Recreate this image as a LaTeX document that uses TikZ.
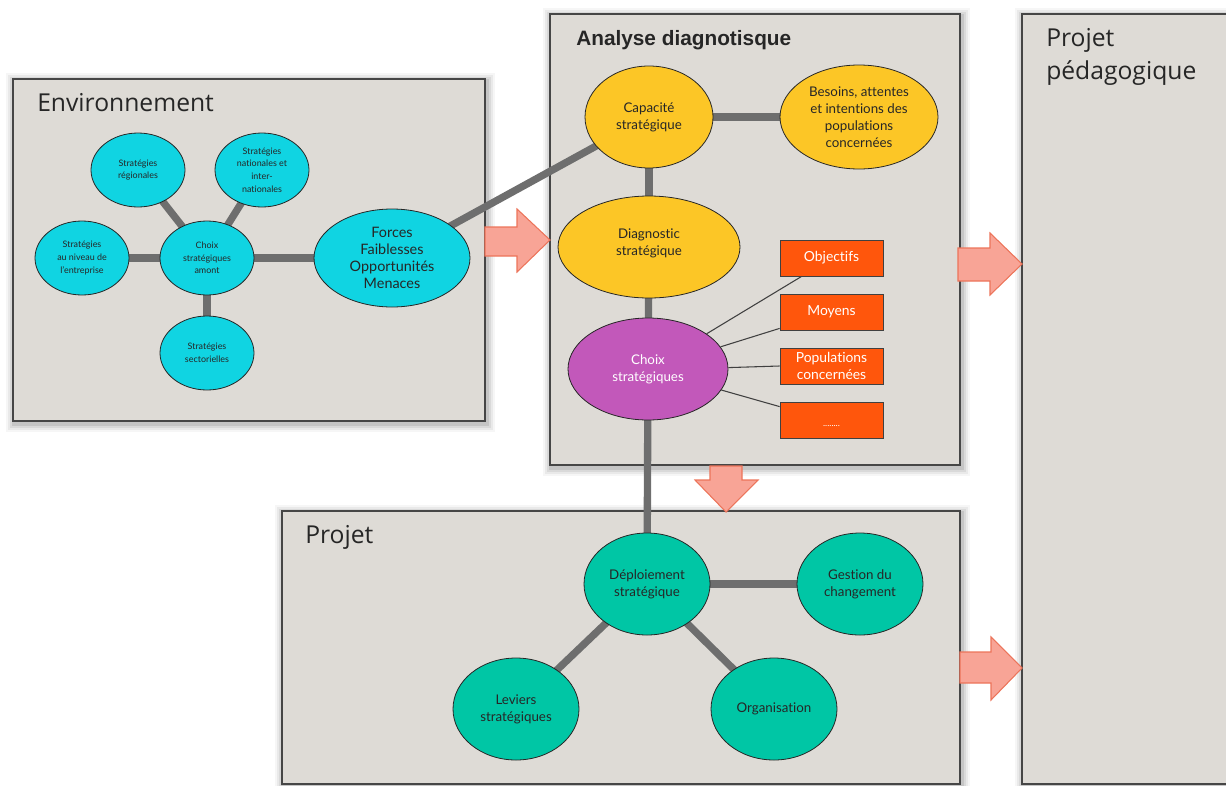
\documentclass[tikz,border=0pt]{standalone}
\usepackage{fontspec}
\setmainfont{Lato}[Ligatures={TeX,NoCommon}]
\newfontfamily\headfont{Open Sans}
\newfontfamily\boldheadfont{Liberation Sans}
\usetikzlibrary{shapes.geometric}

\definecolor{panelfill}{RGB}{222,219,214}
\definecolor{panelline}{RGB}{70,70,70}
\definecolor{envcyan}{RGB}{16,212,226}
\definecolor{anayellow}{RGB}{252,198,38}
\definecolor{choixpurple}{RGB}{194,88,186}
\definecolor{boxorange}{RGB}{255,86,12}
\definecolor{projgreen}{RGB}{0,198,165}
\definecolor{linkgray}{RGB}{110,110,110}
\definecolor{arrowfill}{RGB}{248,164,150}
\definecolor{arrowline}{RGB}{236,116,90}
\definecolor{darktext}{RGB}{38,38,38}

\pgfdeclarelayer{panels}
\pgfdeclarelayer{links}
\pgfsetlayers{panels,links,main}

% text sizes
\newcommand\tinytxt{\fontsize{6.7pt}{9.4pt}\selectfont}
\newcommand\midtxt{\fontsize{10pt}{12.6pt}\selectfont}
\newcommand\tagtxt{\fontsize{10.4pt}{12.6pt}\selectfont}
\newcommand\bigtxt{\fontsize{10.8pt}{12.8pt}\selectfont}
\newcommand\headtxt{\headfont\fontsize{18.5pt}{24.75pt}\selectfont}

% soft shadow under a panel (coordinates in px)
\newcommand\panelshade[4]{%
  \foreach \sh/\op in {8/0.035,6/0.05,4/0.07,2/0.09}{%
    \fill[black,opacity=\op] ({#1-\sh+1},{#2-\sh+2}) rectangle ({#3+\sh+2},{#4+\sh+3});}}

\tikzset{
  panel/.style={draw=panelline, line width=0.9pt, fill=panelfill},
  radii/.style 2 args={minimum width=#1*1.5pt, minimum height=#2*1.5pt},
  bubble/.style={ellipse, draw=black!85, line width=0.6pt, inner sep=0pt,
    align=center, text=darktext},
  envbubble/.style={bubble, fill=envcyan, font=\tinytxt, radii={47}{37}},
  anabubble/.style={bubble, fill=anayellow, font=\midtxt},
  projbubble/.style={bubble, fill=projgreen, font=\midtxt, radii={63}{51}},
  tagbox/.style={rectangle, draw=black!75, line width=0.6pt, fill=boxorange,
    text=white, font=\tagtxt, align=center, inner sep=0pt,
    minimum width=103*0.75pt, minimum height=36*0.75pt},
  link/.style={draw=linkgray, line width=5.5pt},
  thinlink/.style={draw=black!75, line width=0.8pt},
  bigarrow/.style={fill=arrowfill, draw=arrowline, line width=0.8pt, line join=miter},
  heading/.style={anchor=west, inner sep=0pt, text=darktext, align=left}
}

\begin{document}
\begin{tikzpicture}[x=0.75pt,y=-0.75pt]
\useasboundingbox (0,0) rectangle (1226,785);

% ---- panels
\begin{pgfonlayer}{panels}
  \panelshade{13}{79}{485}{421}
  \panelshade{550}{14}{960}{465}
  \panelshade{282}{511}{960}{784}
  \panelshade{1022}{14}{1240}{784}
  \path[panel] (13,79) rectangle (485,421);
  \path[panel] (550,14) rectangle (960,465);
  \path[panel] (282,511) rectangle (960,784);
  \path[panel] (1022,14) rectangle (1240,784);
\end{pgfonlayer}

% ---- headings
\node[heading, font=\headtxt] (tenv) at (37,103) {Environnement};
\node[heading, font=\boldheadfont\bfseries\fontsize{15.6pt}{18pt}\selectfont] (tana) at (576,40) {Analyse diagnotisque};
\node[heading, font=\headtxt] (tproj) at (305,537) {Projet};
\node[heading, font=\headtxt] (tped) at (1046,57) {Projet\\pédagogique};

% ---- environment
\node[envbubble] (reg) at (138,170) {Stratégies\\régionales};
\node[envbubble] (nat) at (262,170) {Stratégies\\nationales et\\inter-\\nationales};
\node[envbubble] (ent) at (82,258) {Stratégies\\au niveau de\\l'entreprise};
\node[envbubble] (amont) at (207,258) {Choix\\stratégiques\\amont};
\node[envbubble] (sect) at (207,353) {Stratégies\\sectorielles};
\node[bubble, fill=envcyan, font=\bigtxt, radii={78}{49}] (swot) at (392,258)
  {Forces\\Faiblesses\\Opportunités\\Menaces};

% ---- diagnostic analysis
\node[anabubble, radii={64}{51}] (cap) at (649,117) {Capacité\\stratégique};
\node[anabubble, radii={79}{52}] (bes) at (859,117)
  {Besoins, attentes\\et intentions des\\populations\\concernées};
\node[anabubble, radii={91}{51}] (diag) at (649,247) {Diagnostic\\stratégique\\[-5pt]\mbox{}};
\node[bubble, fill=choixpurple, text=white, font=\midtxt, radii={80}{51}] (choix) at (648,369)
  {Choix\\stratégiques};
\node[tagbox] (obj) at (831.5,258) {Objectifs};
\node[tagbox] (moy) at (831.5,312) {Moyens};
\node[tagbox] (pop) at (831.5,366) {Populations\\concernées};
\node[tagbox, font=\tinytxt] (etc) at (831.5,420) {\mbox{}\\[1pt]........};

% ---- project
\node[projbubble] (dep) at (647,584) {Déploiement\\stratégique};
\node[projbubble] (ges) at (860,584) {Gestion du\\changement};
\node[projbubble] (org) at (774,709) {Organisation};
\node[projbubble] (lev) at (516,709) {Leviers\\stratégiques};

% ---- thick connectors
\begin{pgfonlayer}{links}
  \draw[link] (amont.center) -- (reg.center);
  \draw[link] (amont.center) -- (nat.center);
  \draw[link] (amont.center) -- (ent.center);
  \draw[link] (amont.center) -- (sect.center);
  \draw[link] (amont.center) -- (swot.center);
  \draw[link] (swot.center) -- (cap.center);
  \draw[link] (cap.center) -- (bes.center);
  \draw[link] (cap.center) -- (diag.center);
  \draw[link] (diag.center) -- (choix.center);
  \draw[link] (choix.center) -- (dep.center);
  \draw[link] (dep.center) -- (ges.center);
  \draw[link] (dep.center) -- (lev.center);
  \draw[link] (dep.center) -- (org.center);
\end{pgfonlayer}

% ---- thin connectors to the orange tags
\draw[thinlink] (choix.31) -- ([xshift=16.5pt]obj.south west);
\draw[thinlink] (choix.17) -- ([yshift=1.5pt]moy.south west);
\draw[thinlink] (choix.1) -- (pop.west);
\draw[thinlink] (choix.-16) -- ([yshift=-3.75pt]etc.north west);

% ---- block arrows between panels
\path[bigarrow] (485,227) -- (517,227) -- (517,209) -- (550,240) -- (517,272) -- (517,256) -- (485,256) -- cycle;
\path[bigarrow] (958,248) -- (990,248) -- (990,233) -- (1022,264) -- (990,295) -- (990,281) -- (958,281) -- cycle;
\path[bigarrow] (960,652) -- (991,652) -- (991,637) -- (1022,668) -- (991,700) -- (991,683) -- (960,683) -- cycle;
\path[bigarrow] (710,466) -- (742,466) -- (742,480) -- (758,480) -- (726,512) -- (695,480) -- (710,480) -- cycle;
\end{tikzpicture}
\end{document}
